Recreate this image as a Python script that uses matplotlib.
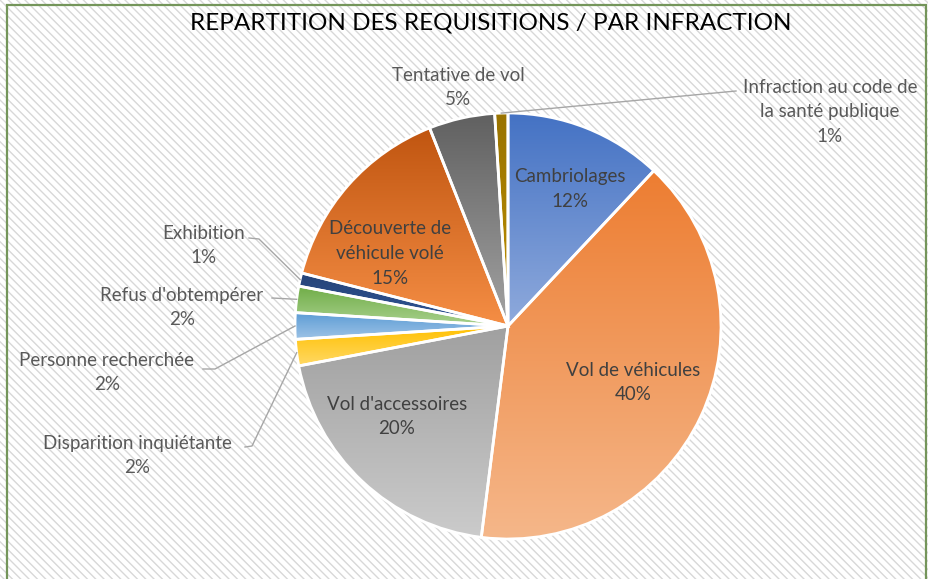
import numpy as np
import matplotlib
matplotlib.use("Agg")
import matplotlib.pyplot as plt
from matplotlib.patches import Rectangle
from matplotlib import colors as mcolors

# ---------------- data ----------------
categories = ["Cambriolages", "Vol de véhicules", "Vol d'accessoires",
              "Disparition inquiétante", "Personne recherchée",
              "Refus d'obtempérer", "Exhibition",
              "Découverte de\nvéhicule volé", "Tentative de vol",
              "Infraction au code de\nla santé publique"]
values = [12, 40, 20, 2, 2, 2, 1, 15, 5, 1]
pct_labels = ["12%", "40%", "20%", "2%", "2%", "2%", "1%", "15%", "5%", "1%"]
title = "REPARTITION DES REQUISITIONS / PAR INFRACTION"

# gradient colours (top, bottom)
grad_colors = [("#4472C4", "#8FAADC"), ("#ED7D31", "#F5B78A"),
               ("#A0A0A0", "#CBCBCB"), ("#FFC000", "#FFD966"),
               ("#5B9BD5", "#9DC3E6"), ("#70AD47", "#A9D18E"),
               ("#264478", "#2F5597"), ("#C05510", "#F58E45"),
               ("#606060", "#A3A3A3"), ("#997300", "#BF9000")]

W, H = 929, 579
plt.rcParams['font.family'] = ['Lato', 'DejaVu Sans']
plt.rcParams['hatch.linewidth'] = 1.0
plt.rcParams['hatch.color'] = '#D8D8D8'

fig = plt.figure(figsize=(W / 100, H / 100), dpi=100)
ax = fig.add_axes([0, 0, 1, 1])

def Y(py):
    return H - py

# background hatch
ax.add_patch(Rectangle((0, 0), W, H, facecolor='white', edgecolor='#D8D8D8',
                       hatch='\\\\\\\\', linewidth=0, zorder=0))
# border
ax.add_patch(Rectangle((7, Y(H + 10)), 919, H + 10 - 5, facecolor='none',
                       edgecolor='#74955A', linewidth=1.6, zorder=10))

cx, cy, r = 508, Y(326), 213
wedges, _ = ax.pie(values, center=(cx, cy), radius=r, startangle=90,
                   counterclock=False, frame=True,
                   wedgeprops=dict(edgecolor='white', linewidth=2.0))

for w, (ctop, cbot) in zip(wedges, grad_colors):
    ext = w.get_path().get_extents()
    t = np.array(mcolors.to_rgb(ctop))
    b = np.array(mcolors.to_rgb(cbot))
    f = np.linspace(0, 1, 256)[:, None]
    img = (t[None, :] * (1 - f) + b[None, :] * f)[:, None, :]
    im = ax.imshow(img, extent=(ext.x0, ext.x1, ext.y0, ext.y1),
                   origin='upper', aspect='auto', zorder=2,
                   interpolation='bilinear')
    im.set_clip_path(w)
    w.set_facecolor('none')
    w.set_zorder(3)

ax.set_xlim(0, W)
ax.set_ylim(0, H)
ax.set_aspect('equal')
ax.axis('off')

ax.text(491, Y(23), title, ha='center', va='center', fontsize=17.5,
        color='black', zorder=5)

inner_col = '#404040'
outer_col = '#595959'
fs = 13.5

# inner labels: index -> (x, y of first line)
inner = {0: (570, 176), 1: (633, 370), 2: (397, 404), 7: (390, 228)}
for i, (x, y) in inner.items():
    lines = categories[i].split("\n") + [pct_labels[i]]
    for k, s in enumerate(lines):
        ax.text(x, Y(y + 25 * k), s, ha='center', va='center', fontsize=fs,
                color=inner_col, zorder=5)

# outer labels: index -> (x, y first line)
outer = {8: (458, 75), 9: (830, 87), 6: (204, 233), 5: (182, 295),
         4: (107, 360), 3: (137, 443)}
for i, (x, y) in outer.items():
    lines = categories[i].split("\n") + [pct_labels[i]]
    for k, s in enumerate(lines):
        ax.text(x, Y(y + 24.5 * k), s, ha='center', va='center', fontsize=fs,
                color=outer_col, zorder=5)

# leader lines from slice mid-angle on the rim
cum = np.cumsum([0] + values[:-1])
total = sum(values)
def rim_point(i):
    mid = (cum[i] + values[i] / 2) / total * 2 * np.pi
    return cx + r * np.sin(mid), cy + r * np.cos(mid)

leaders = {9: [(736, 91)],
           6: [(249, 238), (259, 239)],
           5: [(272, 298)],
           4: [(203, 369), (215, 369)],
           3: [(245, 447), (252, 446)]}
for i, pts in leaders.items():
    rx, ry = rim_point(i)
    xs = [p[0] for p in pts] + [rx]
    ys = [Y(p[1]) for p in pts] + [ry]
    ax.plot(xs, ys, color='#A6A6A6', lw=1.0, zorder=4)

fig.savefig("out.png", dpi=100)
